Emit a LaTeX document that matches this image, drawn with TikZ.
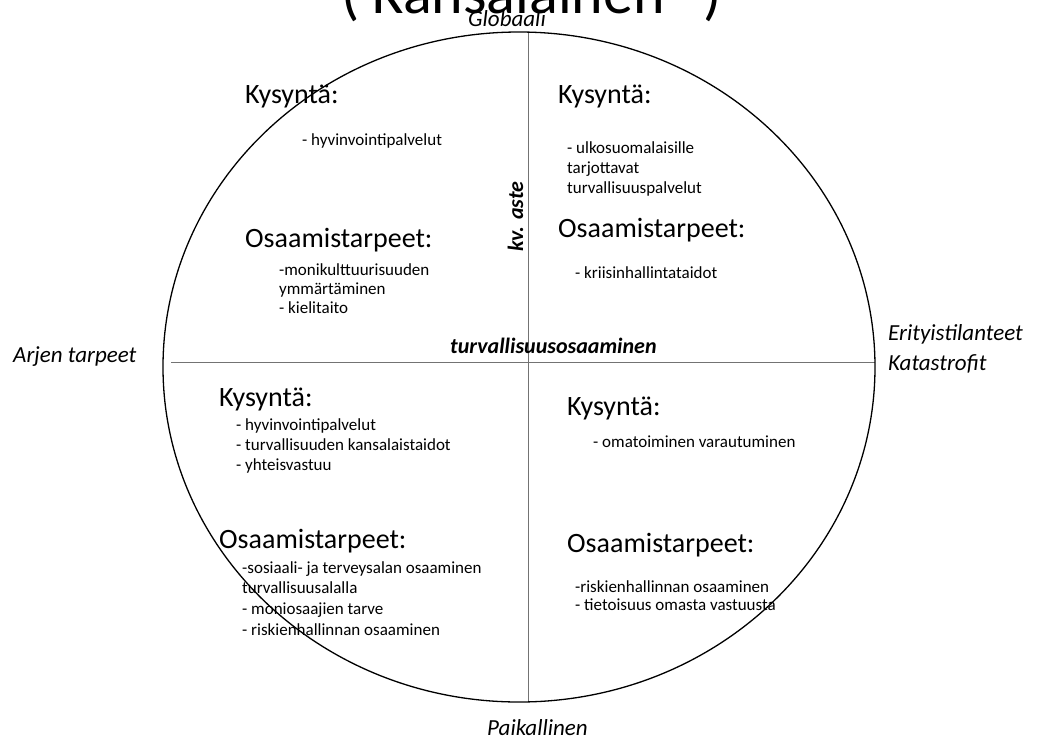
\documentclass[tikz,border=0pt]{standalone}
\usepackage{fontspec}
\setmainfont{Carlito}
\newcommand{\rivit}[1]{\begin{tabular}[t]{@{}l@{}}#1\end{tabular}}
\tikzset{
  head/.style={anchor=base west,inner sep=0pt,font=\fontsize{28}{32}\selectfont},
  item/.style={anchor=base west,inner sep=0pt,font=\fontsize{17}{20}\selectfont},
  pole/.style={anchor=base west,inner sep=0pt,font=\fontsize{23}{30}\selectfont\itshape},
  axis/.style={black!55,line width=1pt}
}
\begin{document}
\begin{tikzpicture}[x=1pt,y=-1pt]
\useasboundingbox (0,0) rectangle (1045,737);
% title, cut by the page top
\node[anchor=base west,inner sep=0pt,font=\fontsize{60}{60}\selectfont] (title) at (341,13) {( Kansalainen” )};
% axes
\coordinate (N) at (528,32); \coordinate (S) at (528,702);
\coordinate (W) at (171,362); \coordinate (E) at (875,362);
\draw[axis] (N)--(S);
\draw[axis] (W)--(E);
% poles
\node[pole] (glob) at (468,26) {Globaali};
\node[pole] (paik) at (487,735) {Paikallinen};
\node[pole] (arki) at (13,362) {Arjen tarpeet};
\node[pole] (erit) at (888,340) {\rivit{Erityistilanteet\\Katastrofit}};
\node[anchor=base west,inner sep=0pt,font=\fontsize{22}{26}\selectfont\bfseries\itshape] (osaa) at (450,353) {turvallisuusosaaminen};
\node[anchor=base west,inner sep=0pt,rotate=90,font=\fontsize{22}{26}\selectfont\bfseries\itshape] (aste) at (523,252) {kv. aste};
% upper left
\node[head] (k1) at (245,103) {Kysyntä:};
\node[item] (k1a) at (302,145) {- hyvinvointipalvelut};
\node[head] (o1) at (245,247) {Osaamistarpeet:};
\node[item,font=\fontsize{17}{19}\selectfont] (o1a) at (279,275) {\rivit{-monikulttuurisuuden\\ymmärtäminen\\- kielitaito}};
% upper right
\node[head] (k2) at (558,103) {Kysyntä:};
\node[item] (k2a) at (567,153) {\rivit{- ulkosuomalaisille\\tarjottavat\\turvallisuuspalvelut}};
\node[head] (o2) at (558,237) {Osaamistarpeet:};
\node[item] (o2a) at (575,278) {- kriisinhallintataidot};
% lower left
\node[head] (k3) at (219,406) {Kysyntä:};
\node[item] (k3a) at (236,430) {\rivit{- hyvinvointipalvelut\\- turvallisuuden kansalaistaidot\\- yhteisvastuu}};
\node[head] (o3) at (219,548) {Osaamistarpeet:};
\node[item,font=\fontsize{17}{20.7}\selectfont] (o3a) at (242,573) {\rivit{-sosiaali- ja terveysalan osaaminen\\turvallisuusalalla\\- moniosaajien tarve\\- riskienhallinnan osaaminen}};
% lower right
\node[head] (k4) at (567,415) {Kysyntä:};
\node[item] (k4a) at (593,447) {- omatoiminen varautuminen};
\node[head] (o4) at (567,552) {Osaamistarpeet:};
\node[item,font=\fontsize{17}{18}\selectfont] (o4a) at (575,592) {\rivit{-riskienhallinnan osaaminen\\- tietoisuus omasta vastuusta}};
% circle
\draw[line width=1.3pt] (519,367) ellipse [x radius=356,y radius=335];
\end{tikzpicture}
\end{document}
